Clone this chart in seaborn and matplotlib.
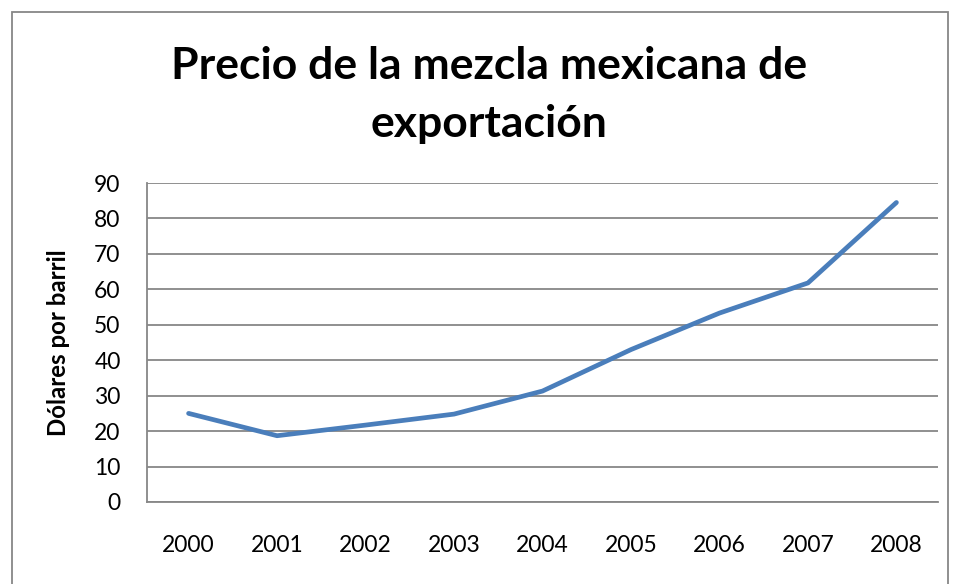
import matplotlib
matplotlib.use("Agg")
import matplotlib.pyplot as plt
import seaborn as sns
import pandas as pd
from matplotlib.patches import Rectangle

years = ["2000", "2001", "2002", "2003", "2004", "2005", "2006", "2007", "2008"]
precio = [25.0, 18.7, 21.7, 24.8, 31.3, 43.0, 53.3, 61.8, 84.5]
yticks = [0, 10, 20, 30, 40, 50, 60, 70, 80, 90]

title = "Precio de la mezcla mexicana de\nexportación"
ylabel = "Dólares por barril"

sns.set_theme(style="white")
plt.rcParams['font.family'] = ['Lato', 'DejaVu Sans']
plt.rcParams['text.color'] = 'black'
plt.rcParams['xtick.color'] = 'black'
plt.rcParams['ytick.color'] = 'black'
plt.rcParams['axes.labelcolor'] = 'black'

df = pd.DataFrame({"year": years, "precio": precio})
df["pos"] = range(len(years))

fig = plt.figure(figsize=(9.54, 5.84), dpi=100)
ax = fig.add_axes([147/954, 1-502/584, (938-147)/954, (502-183)/584])

sns.lineplot(data=df, x="pos", y="precio", ax=ax, color="#4A7EBB", linewidth=3.4,
             solid_capstyle="round", solid_joinstyle="round")

ax.set_xlim(-0.47, len(years) - 0.53)
ax.set_ylim(0, 90)
ax.set_yticks(yticks)
ax.set_yticklabels([str(v) for v in yticks], fontsize=16.5)
ax.set_xticks(range(len(years)))
ax.set_xticklabels(years, fontsize=16.5)
ax.tick_params(axis="x", length=0, pad=24)
ax.tick_params(axis="y", length=0, pad=19)
ax.set_xlabel("")
ax.set_ylabel(ylabel, fontsize=17.3, fontweight="bold")
ax.yaxis.set_label_coords((59 - 147) / (938 - 147), 0.5)
ax.yaxis.label.set_va("center")

ax.grid(axis="y", color="#878787", linewidth=1.3)
ax.grid(axis="x", visible=False)
for s in ["top", "right"]:
    ax.spines[s].set_visible(False)
for s in ["left", "bottom"]:
    ax.spines[s].set_color("#878787")
    ax.spines[s].set_linewidth(1.3)

fig.text(489/954, 1 - 79/584, "Precio de la mezcla mexicana de", ha="center",
         va="baseline", fontsize=32, fontweight="bold")
fig.text(489/954, 1 - 137/584, "exportación", ha="center",
         va="baseline", fontsize=32, fontweight="bold")

fig.patches.append(Rectangle((12/954, -0.05), (948-12)/954, 1.05 - 12/584,
                             transform=fig.transFigure, fill=False,
                             edgecolor="#878787", linewidth=1.3))

fig.savefig("out.png", dpi=100)
